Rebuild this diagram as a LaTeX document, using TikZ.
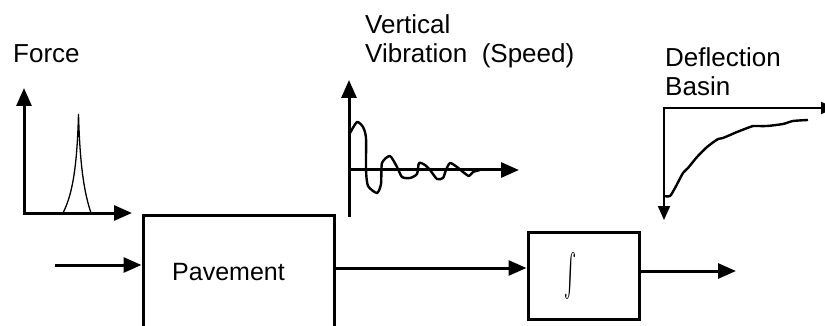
\documentclass[tikz,border=0pt]{standalone}
\usepackage{amsmath}
\usepackage{fontspec}
\setmainfont{Liberation Sans}
\usepackage{tikz}
\usetikzlibrary{positioning, arrows.meta}

\begin{document}
\begin{tikzpicture}[x=1pt, y=-1pt, font=\fontsize{26}{29}\selectfont,
  axis/.style={line width=3pt, line join=miter},
  flow/.style={line width=3pt, -{Triangle[length=18pt,width=15pt]}},
  block/.style={draw, line width=3pt, inner sep=0pt},
  trace/.style={line width=2.4pt, line join=round},
  lbl/.style={anchor=base west, inner sep=0pt}]
\clip (0,0) rectangle (825,326);

% force pulse
\node[lbl] (forcelbl) at (13,63) {Force};
\coordinate (fo) at (24,213);
\coordinate (ftop) at (24,88);
\coordinate (fend) at (132,213);
\draw[axis, {Triangle[length=18pt,width=15pt]}-{Triangle[length=18pt,width=15pt]}] (ftop) -- (fo) -- (fend);
\draw[line width=1.3pt] (63,213) .. controls (72,195) and (77,170) .. (78.5,114)
  .. controls (80,170) and (85,195) .. (91,213);

% vibration record
\node[lbl] (vertlbl) at (365,34) {Vertical};
\node[lbl] (viblbl) at (365,63) {Vibration\ \ (Speed)};
\coordinate (vbot) at (349,217);
\coordinate (vtop) at (349,80);
\coordinate (vo) at (349,170);
\coordinate (vend) at (519,170);
\draw[axis, -{Triangle[length=18pt,width=15pt]}] (vbot) -- (vtop);
\draw[axis, -{Triangle[length=18pt,width=15pt]}] (vo) -- (vend);
\draw[trace] plot[smooth, tension=0.4] coordinates {(350,133) (357,122) (363,127)
  (366,138) (366,170) (368,186) (377,193) (381,184) (382,163) (390,156) (397,167)
  (402,177) (410,178) (417,174) (419,163) (425,165) (430,170) (437,179) (443,178)
  (446,170) (450,163) (457,167) (463,172) (469,176) (473,172) (480,170)};

% deflection basin
\node[lbl] (deflbl) at (665,67) {Deflection};
\node[lbl] (basinlbl) at (665,96) {Basin};
\coordinate (do) at (664,108);
\coordinate (dtip) at (664,220);
\coordinate (dend) at (835,108);
\draw[line width=2pt, {Triangle[length=14pt,width=12pt]}-{Triangle[length=14pt,width=12pt]}] (dtip) -- (do) -- (dend);
\draw[trace] plot[smooth, tension=0.4] coordinates {(664,196) (670,196) (675,188)
  (683,173) (688,168) (697,157) (707,147) (718,139) (723,138) (737,132) (750,127)
  (753,126) (767,126) (783,124) (793,121) (808,120)};

% signal chain
\node[block, minimum width=191pt, minimum height=115pt, font=\fontsize{25}{29}\selectfont] (pave) at (238.5,272.5) {Pavement\hspace*{20pt}};
\node[block, minimum width=111pt, minimum height=87pt] (integ) at (583.5,275.5) {\resizebox{12pt}{34pt}{$\int$}\hspace*{26pt}};
\coordinate (src) at (55,265);
\coordinate (sink) at (736,271);
\draw[flow] (src) -- (src -| pave.west);
\draw[flow] (pave.east |- 0,268) -- (integ.west |- 0,268);
\draw[flow] (integ.east |- sink) -- (sink);
\end{tikzpicture}
\end{document}
